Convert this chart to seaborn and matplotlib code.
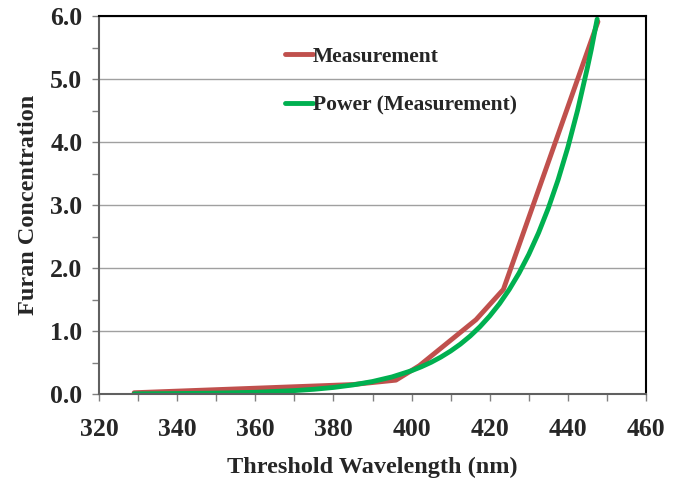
import matplotlib
matplotlib.use("Agg")
import matplotlib.pyplot as plt
import seaborn as sns
import pandas as pd
from matplotlib.ticker import MultipleLocator

meas_x = [329, 385, 396, 402, 416.5, 423.5, 447.7]
meas_y = [0.02, 0.15, 0.22, 0.45, 1.18, 1.66, 5.91]

# Power trendline
fit_x = [329, 340, 350, 360, 370, 375, 380, 385, 390, 395, 400, 402.5, 405, 407.5, 410,
         412.5, 415, 417.5, 420, 422.5, 425, 427.5, 430, 432.5, 435, 437.5, 440,
         442.5, 445, 446, 447.5]
fit_y = [0.003, 0.007, 0.014, 0.027, 0.054, 0.075, 0.104, 0.144, 0.198, 0.271, 0.37, 0.432,
         0.503, 0.586, 0.682, 0.792, 0.920, 1.068, 1.238, 1.433, 1.659, 1.918, 2.216,
         2.558, 2.950, 3.400, 3.915, 4.505, 5.18, 5.47, 5.95]

labels = ["Measurement", "Power (Measurement)"]
colors = ["#C0504D", "#00B050"]

sns.set_style("white")
plt.rcParams['font.family'] = ['Liberation Serif', 'DejaVu Serif']
plt.rcParams['font.weight'] = 'bold'

fig = plt.figure(figsize=(6.8, 4.8), dpi=100)
ax = fig.add_axes([99/680, 1 - 394/480, 547/680, 378/480])

df1 = pd.DataFrame({"x": meas_x, "y": meas_y})
df2 = pd.DataFrame({"x": fit_x, "y": fit_y})
sns.lineplot(data=df1, x="x", y="y", ax=ax, color=colors[0], lw=3.5, label=labels[0],
             sort=False, solid_capstyle='round', solid_joinstyle='round')
sns.lineplot(data=df2, x="x", y="y", ax=ax, color=colors[1], lw=3.5, label=labels[1],
             sort=False, solid_capstyle='round', solid_joinstyle='round')

ax.set_xlim(320, 460)
ax.set_ylim(0, 6)
ax.xaxis.set_major_locator(MultipleLocator(20))
ax.xaxis.set_minor_locator(MultipleLocator(10))
ax.yaxis.set_major_locator(MultipleLocator(1))
ax.yaxis.set_minor_locator(MultipleLocator(0.5))
ax.yaxis.set_major_formatter(matplotlib.ticker.FormatStrFormatter('%.1f'))
ax.grid(axis='y', which='major', color='#A0A0A0', lw=1)
ax.set_axisbelow(True)
ax.tick_params(which='both', direction='out', length=5, width=1, color='#808080',
               bottom=True, left=True)
ax.tick_params(axis='x', which='major', labelsize=18.5, pad=12)
ax.tick_params(axis='y', which='major', labelsize=18.5, pad=7)
for lab in ax.get_xticklabels() + ax.get_yticklabels():
    lab.set_fontweight('bold')
for s in ax.spines.values():
    s.set_color('black')
    s.set_linewidth(1.5)
ax.spines['left'].set_color('#606060')
ax.spines['bottom'].set_color('#606060')

ax.set_xlabel("Threshold Wavelength (nm)", fontsize=17.5, fontweight='bold', labelpad=12)
ax.set_ylabel("Furan Concentration", fontsize=17.5, fontweight='bold', labelpad=8)

leg = ax.legend(loc='upper left', bbox_to_anchor=(0.304, 0.97), frameon=False,
                handlelength=1.3, handletextpad=0.0, labelspacing=1.35,
                prop={'size': 15.5, 'weight': 'bold'})

fig.savefig("out.png", dpi=100)
